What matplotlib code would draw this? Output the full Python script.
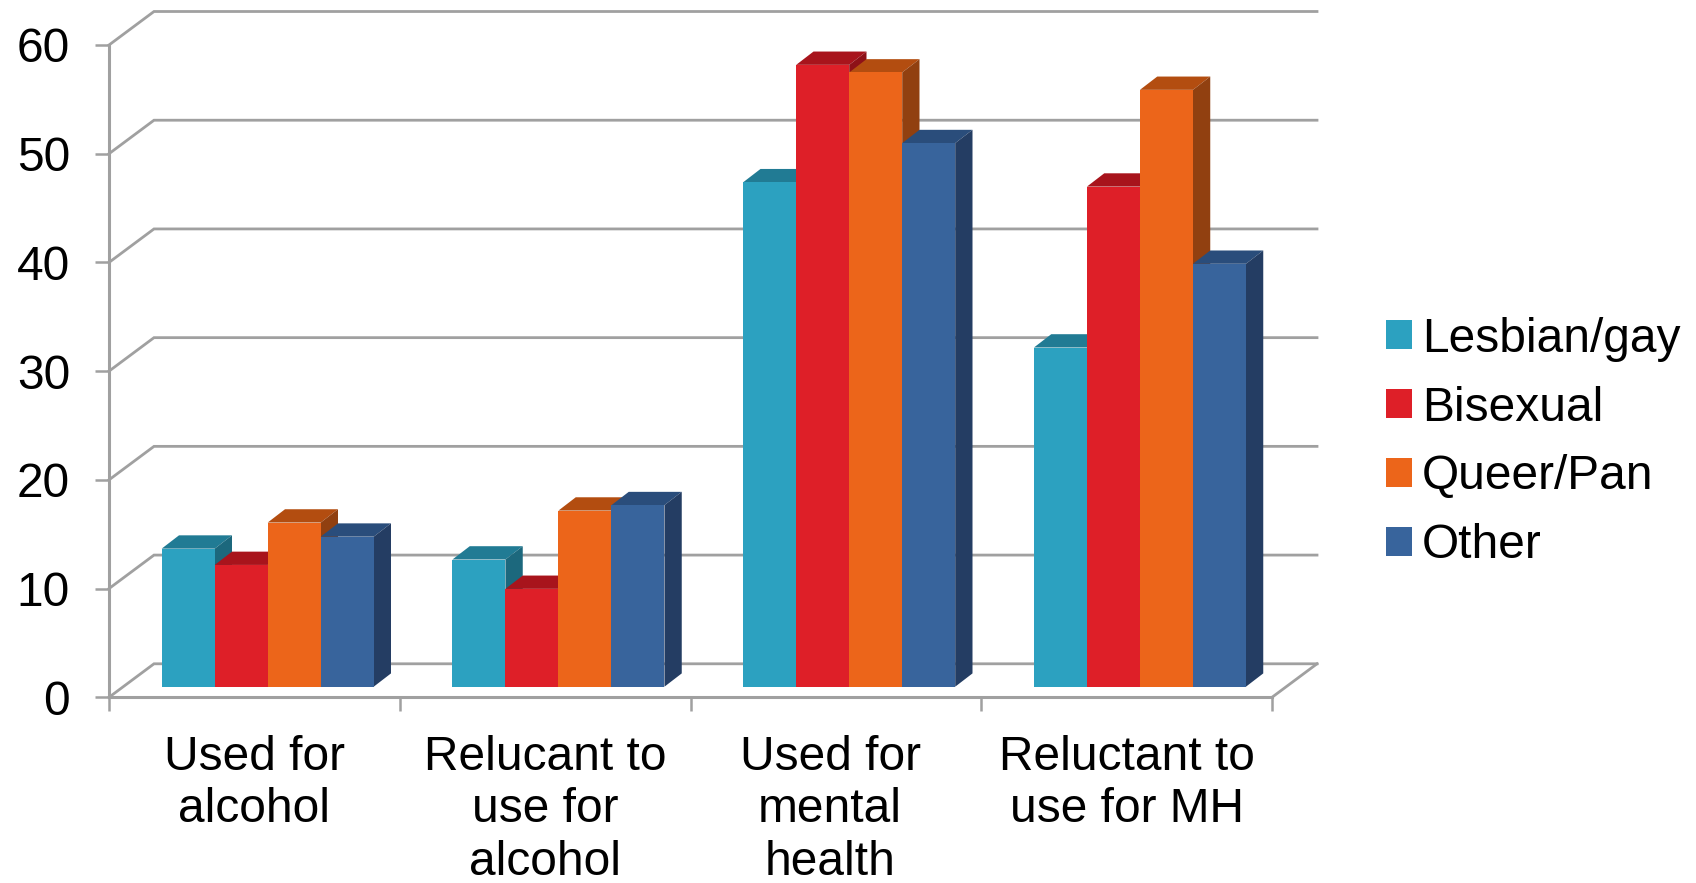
import numpy as np
import matplotlib
matplotlib.use('Agg')
import matplotlib.pyplot as plt
from matplotlib.patches import Patch

plt.rcParams['font.family'] = ['Liberation Sans', 'DejaVu Sans']

categories = ['Used for\nalcohol', 'Relucant to\nuse for\nalcohol', 'Used for\nmental\nhealth', 'Reluctant to\nuse for MH']
series = ['Lesbian/gay', 'Bisexual', 'Queer/Pan', 'Other']
lesbian_gay = [12.7, 11.7, 46.4, 31.2]
bisexual = [11.2, 9.0, 57.2, 46.0]
queer_pan = [15.1, 16.2, 56.5, 54.9]
other = [13.8, 16.7, 50.0, 38.9]
yticks = [0, 10, 20, 30, 40, 50, 60]

front = ['#2CA1C0', '#DE1F28', '#EC651A', '#38649C']
top = ['#217B94', '#A8141C', '#B34D10', '#2A4D7B']
side = ['#1C687D', '#8E1118', '#914010', '#243D63']
GRID = '#A0A0A0'

W, H = 1696, 883
fig = plt.figure(figsize=(W / 100, H / 100), dpi=100)
# axes box = front face of the plot, in pixels
x0, x1, y0, y1 = 109, 1272, 697.3, 45
ax = fig.add_axes([x0 / W, 1 - y0 / H, (x1 - x0) / W, (y0 - y1) / H])
ax.set_xlim(0, 4)
ax.set_ylim(0, 60)
xpx = (x1 - x0) / 4   # pixels per category
ypx = (y0 - y1) / 60  # pixels per unit

# back wall offset
wall_dx, wall_dy = 45 / xpx, 33.5 / ypx
for v in yticks:
    ax.plot([0, wall_dx, 4 + wall_dx], [v, v + wall_dy, v + wall_dy], color=GRID, lw=2,
            clip_on=False, zorder=1, solid_joinstyle='miter')
ax.plot([4, 4 + wall_dx], [0, wall_dy], color=GRID, lw=2, clip_on=False, zorder=1)

# bars
bar_w = 53 / xpx
base = 10.6 / ypx
shift = 52.7 / xpx
dep_x, dep_y = 17.3 / xpx, 13.3 / ypx
values = [lesbian_gay, bisexual, queer_pan, other]
z = 3
for c in range(len(categories)):
    for s in range(len(series)):
        h = values[s][c]
        left = c + shift + s * bar_w
        right = left + bar_w
        ax.fill([left, right, right + dep_x, left + dep_x],
                [base + h, base + h, base + h + dep_y, base + h + dep_y],
                color=top[s], lw=0, clip_on=False, zorder=z)
        ax.fill([right, right + dep_x, right + dep_x, right],
                [base, base + dep_y, base + h + dep_y, base + h],
                color=side[s], lw=0, clip_on=False, zorder=z)
        ax.bar(left, h, width=bar_w, bottom=base, align='edge', color=front[s], lw=0, zorder=z)
        z += 1

for sp in ['top', 'right']:
    ax.spines[sp].set_visible(False)
for sp in ['left', 'bottom']:
    ax.spines[sp].set_color(GRID)
    ax.spines[sp].set_linewidth(2.2)
    ax.spines[sp].set_zorder(2)

ax.set_yticks(yticks)
ax.tick_params(axis='y', length=10, width=1.8, color=GRID, labelsize=34.5, pad=18)
ax.set_xticks([0, 1, 2, 3, 4])
ax.set_xticklabels([])
ax.tick_params(axis='x', which='major', length=10, width=1.8, color=GRID)
ax.set_xticks([0.5, 1.5, 2.48, 3.5], minor=True)
ax.set_xticklabels(categories, minor=True, fontsize=34.5, linespacing=1.22)
ax.tick_params(axis='x', which='minor', length=0, pad=27)

handles = [Patch(facecolor=f, edgecolor='none') for f in front]
fig.legend(handles, series, loc='center left', bbox_to_anchor=(1386 / W, 1 - 442.5 / H),
           fontsize=34.5, frameon=False, handlelength=0.55, handleheight=0.55,
           handletextpad=0.2, labelspacing=0.5, borderpad=0, borderaxespad=0)

fig.savefig('out.png', dpi=100)
